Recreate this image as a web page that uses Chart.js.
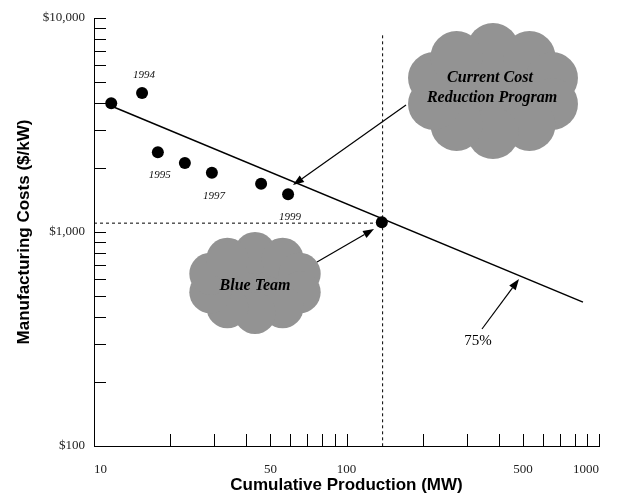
<!DOCTYPE html>
<html><head><meta charset="utf-8">
<script src="https://cdn.jsdelivr.net/npm/chart.js@4.4.1/dist/chart.umd.min.js"></script>
<style>html,body{margin:0;padding:0;background:#fff;} canvas{display:block;}</style>
</head><body>
<canvas id="c" width="619" height="494"></canvas>
<script>
// ---- data ----
const productionMW = [11.7, 15.5, 17.9, 22.9, 29.3, 45.9, 58.7, 138];
const costPerKW    = [4000, 4460, 2360, 2100, 1890, 1680, 1500, 1110];
const yearLabels   = ['', '1994', '1995', '', '1997', '', '1999', ''];
const curveMW      = [11.7, 864];
const curveCost    = [3880, 470];
const guideMW      = [10, 139];
const guideCost    = [1100, 1100];
const vGuideMW     = [139, 139];
const vGuideCost   = [8300, 100];
const xTickValues  = [10, 50, 100, 500, 1000];
const yTickValues  = [100, 1000, 10000];
const xMinorTicks  = [20,30,40,50,60,70,80,90,100,200,300,400,500,600,700,800,900,1000];
const yMinorTicks  = [200,300,400,500,600,700,800,900,1000,2000,3000,4000,5000,6000,7000,8000,9000,10000];

const pts = (xs, ys) => xs.map((x, i) => ({x, y: ys[i]}));

function drawCloud(ctx, cx, cy, rx, ry, r, n) {
  ctx.save();
  ctx.fillStyle = '#939393';
  ctx.beginPath();
  ctx.ellipse(cx, cy, rx + r * 0.45, ry + r * 0.45, 0, 0, Math.PI * 2);
  ctx.fill();
  for (let i = 0; i < n; i++) {
    const a = -Math.PI / 2 + i * 2 * Math.PI / n;
    ctx.beginPath();
    ctx.arc(cx + rx * Math.cos(a), cy + ry * Math.sin(a), r, 0, Math.PI * 2);
    ctx.fill();
  }
  ctx.restore();
}
function drawArrow(ctx, x1, y1, x2, y2) {
  const a = Math.atan2(y2 - y1, x2 - x1), L = 11, W = 4;
  const bx = x2 - L * Math.cos(a), by = y2 - L * Math.sin(a);
  ctx.save();
  ctx.strokeStyle = '#000'; ctx.fillStyle = '#000'; ctx.lineWidth = 1.2;
  ctx.beginPath(); ctx.moveTo(x1, y1); ctx.lineTo(bx, by); ctx.stroke();
  ctx.beginPath();
  ctx.moveTo(x2, y2);
  ctx.lineTo(bx + W * Math.sin(a), by - W * Math.cos(a));
  ctx.lineTo(bx - W * Math.sin(a), by + W * Math.cos(a));
  ctx.closePath(); ctx.fill();
  ctx.restore();
}

const annotate = {
  id: 'annotate',
  afterDraw(chart) {
    const ctx = chart.ctx, xs = chart.scales.x, ys = chart.scales.y;
    const area = chart.chartArea;
    // inward minor ticks
    ctx.save();
    ctx.strokeStyle = '#000'; ctx.lineWidth = 1;
    ctx.beginPath();
    yMinorTicks.forEach(v => {
      const y = Math.round(ys.getPixelForValue(v)) + 0.5;
      ctx.moveTo(area.left, y); ctx.lineTo(area.left + 12, y);
    });
    xMinorTicks.forEach(v => {
      const x = Math.round(xs.getPixelForValue(v)) + 0.5;
      ctx.moveTo(x, area.bottom); ctx.lineTo(x, area.bottom - 12);
    });
    ctx.stroke();
    ctx.restore();

    // year labels
    const meta = chart.getDatasetMeta(0);
    ctx.save();
    ctx.font = 'italic 11px "Liberation Serif"';
    ctx.fillStyle = '#111'; ctx.textAlign = 'center'; ctx.textBaseline = 'middle';
    yearLabels.forEach((t, i) => {
      if (!t) return;
      const p = meta.data[i];
      const above = i === 1;
      ctx.fillText(t, p.x + 2, p.y + (above ? -18 : 23));
    });
    ctx.restore();

    // clouds
    drawCloud(ctx, 493, 91, 62, 42, 26, 10);
    drawCloud(ctx, 255, 283, 47, 30, 21, 10);
    ctx.save();
    ctx.fillStyle = '#000'; ctx.textAlign = 'center'; ctx.textBaseline = 'middle';
    ctx.font = 'italic bold 16px "Liberation Serif"';
    ctx.fillText('Current Cost', 490, 78);
    ctx.fillText('Reduction Program', 492, 98);
    ctx.fillText('Blue Team', 255, 286);
    ctx.font = '15px "Liberation Serif"';
    ctx.fillText('75%', 478, 341);
    ctx.restore();

    // arrows
    drawArrow(ctx, 406, 105, 293, 185);
    drawArrow(ctx, 317, 262, 374, 229);
    drawArrow(ctx, 482, 329, 519, 279);
  }
};

new Chart(document.getElementById('c'), {
  type: 'scatter',
  data: {
    datasets: [
      { data: pts(productionMW, costPerKW), pointRadius: 6, pointBackgroundColor: '#000', pointBorderWidth: 0, showLine: false },
      { data: pts(curveMW, curveCost), showLine: true, pointRadius: 0, borderColor: '#000', borderWidth: 1.5 },
      { data: pts(guideMW, guideCost), showLine: true, pointRadius: 0, borderColor: '#000', borderWidth: 1, borderDash: [3, 3] },
      { data: pts(vGuideMW, vGuideCost), showLine: true, pointRadius: 0, borderColor: '#000', borderWidth: 1, borderDash: [3, 3] }
    ]
  },
  options: {
    responsive: false, animation: false, devicePixelRatio: 1,
    layout: { padding: { top: 18, right: 20, left: 0, bottom: 0 } },
    plugins: { legend: { display: false }, tooltip: { enabled: false } },
    scales: {
      x: {
        type: 'logarithmic', min: 10, max: 1000,
        grid: { display: false, drawTicks: false },
        border: { display: true, color: '#000', width: 1 },
        afterBuildTicks: s => { s.ticks = xTickValues.map(v => ({ value: v })); },
        afterFit: s => { s.height = 48; },
        ticks: { align: 'inner', maxRotation: 0, autoSkip: false, padding: 16, color: '#222',
                 font: { family: 'Liberation Serif', size: 13 }, callback: v => String(v) },
        title: { display: true, text: 'Cumulative Production (MW)', color: '#000',
                 font: { family: 'Liberation Sans', size: 17, weight: 'bold', lineHeight: 1 },
                 padding: { top: 0, bottom: 0 } }
      },
      y: {
        type: 'logarithmic', min: 100, max: 10000,
        grid: { display: false, drawTicks: false },
        border: { display: true, color: '#000', width: 1 },
        afterBuildTicks: s => { s.ticks = yTickValues.map(v => ({ value: v })); },
        afterFit: s => { s.width = 94; },
        ticks: { padding: 9, color: '#222', autoSkip: false,
                 font: { family: 'Liberation Serif', size: 13 },
                 callback: v => '$' + Number(v).toLocaleString('en-US') },
        title: { display: true, text: 'Manufacturing Costs ($/kW)', color: '#000',
                 font: { family: 'Liberation Sans', size: 17, weight: 'bold', lineHeight: 1 },
                 padding: { top: 16, bottom: 0 } }
      }
    }
  },
  plugins: [annotate]
});
</script>
</body></html>
